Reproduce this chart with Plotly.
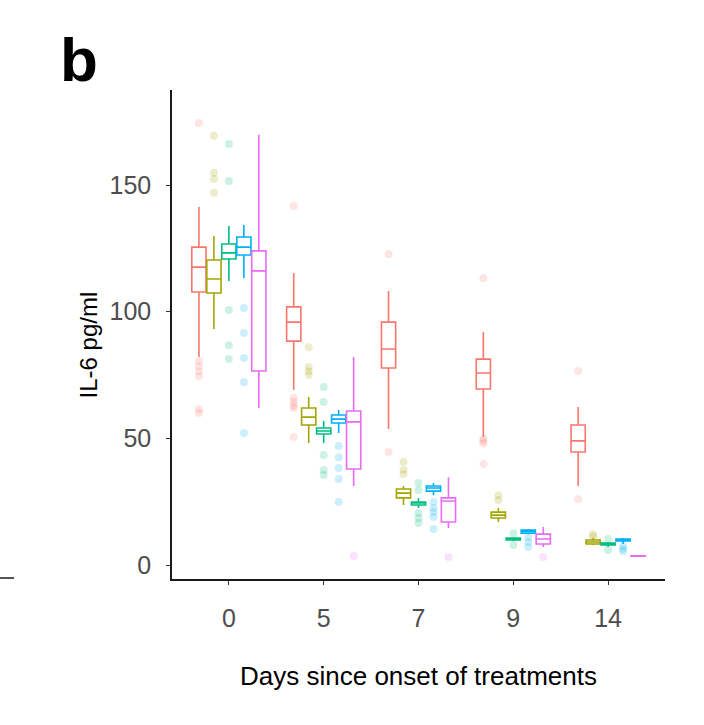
import plotly.graph_objects as go

# ---- data -------------------------------------------------------------
days = ["0", "5", "7", "9", "14"]
colors = ["#F8766D", "#A3A500", "#00BF7D", "#00B0F6", "#E76BF3"]

# series 1 (salmon)
s1_lo  = [82.1, 69.1, 53.7, 50.5, 31.2]
s1_q1  = [107.8, 88.4, 77.8, 69.5, 44.6]
s1_med = [117.6, 95.9, 85.3, 75.8, 49.0]
s1_q3  = [125.5, 101.9, 95.9, 81.3, 55.3]
s1_hi  = [141.3, 115.3, 108.2, 92.0, 62.4]
s1_out = [[174.5, 80.5, 78.5, 76.5, 74.5, 61.5, 60.0],
          [141.7, 66.0, 64.5, 63.0, 62.0, 50.5],
          [122.8, 44.6],
          [113.3, 50.0, 49.0, 48.0, 39.9],
          [76.6, 26.0]]

# series 2 (olive)
s2_lo  = [93.2, 48.2, 23.7, 17.0, 7.9]
s2_q1  = [107.4, 55.3, 26.5, 18.6, 8.3]
s2_med = [112.9, 58.4, 28.4, 19.7, 9.1]
s2_q3  = [120.4, 62.0, 30.0, 20.9, 9.9]
s2_hi  = [129.9, 66.3, 31.2, 22.5, 10.7]
s2_out = [[169.4, 154.8, 152.4, 146.9],
          [86.0, 78.2, 76.5, 75.0],
          [40.7, 37.5, 35.9],
          [27.6, 25.7],
          [11.4, 12.2]]

# series 3 (green)
s3_lo  = [112.1, 48.2, 22.5, 9.5, 7.1]
s3_q1  = [120.8, 51.7, 23.7, 9.9, 7.9]
s3_med = [123.2, 52.9, 24.5, 10.3, 8.3]
s3_q3  = [126.7, 54.1, 24.9, 10.7, 8.7]
s3_hi  = [133.8, 56.9, 26.5, 11.0, 9.1]
s3_out = [[166.2, 151.6, 100.7, 86.8, 81.3],
          [70.3, 64.4, 43.4, 37.5, 35.5],
          [32.4, 29.6, 20.5, 18.6, 16.6],
          [12.6, 7.9],
          [10.3, 5.9]]

# series 4 (blue)
s4_lo  = [113.3, 52.1, 27.6, 12.2, 8.3]
s4_q1  = [122.4, 56.1, 29.2, 12.6, 9.5]
s4_med = [125.5, 57.6, 30.4, 13.4, 9.9]
s4_q3  = [129.5, 59.2, 31.2, 13.8, 10.3]
s4_hi  = [134.2, 61.2, 32.4, 14.2, 10.7]
s4_out = [[101.5, 91.6, 81.7, 72.2, 52.1],
          [47.0, 42.6, 38.3, 34.0, 24.9],
          [24.9, 22.5, 20.9, 19.0, 14.2],
          [11.0, 9.1, 7.1],
          [7.5, 6.3, 5.5]]

# series 5 (magenta)
s5_lo  = [62.0, 31.2, 14.6, 7.1, 3.4]
s5_q1  = [76.6, 37.9, 17.0, 8.3, 3.5]
s5_med = [116.1, 56.5, 25.3, 10.3, 3.6]
s5_q3  = [124.0, 60.8, 26.5, 12.2, 3.7]
s5_hi  = [169.8, 82.1, 34.7, 15.0, 3.8]
s5_out = [[],
          [3.6],
          [3.2],
          [3.2],
          []]

series = [
    (s1_lo, s1_q1, s1_med, s1_q3, s1_hi, s1_out),
    (s2_lo, s2_q1, s2_med, s2_q3, s2_hi, s2_out),
    (s3_lo, s3_q1, s3_med, s3_q3, s3_hi, s3_out),
    (s4_lo, s4_q1, s4_med, s4_q3, s4_hi, s4_out),
    (s5_lo, s5_q1, s5_med, s5_q3, s5_hi, s5_out),
]

# ---- figure -----------------------------------------------------------
dodge = 0.158
box_w = 0.15
fig = go.Figure()

def rgba(hexc, a):
    h = hexc.lstrip("#")
    r, g, b = int(h[0:2], 16), int(h[2:4], 16), int(h[4:6], 16)
    return f"rgba({r},{g},{b},{a})"

for j, (lo, q1, med, q3, hi, out) in enumerate(series):
    off = (j - 2) * dodge
    xs = [i + off for i in range(len(days))]
    ox, oy = [], []
    for i, vals in enumerate(out):
        for v in vals:
            ox.append(i + off)
            oy.append(v)
    fig.add_trace(go.Scatter(
        x=ox, y=oy, mode="markers",
        marker=dict(size=8, color=rgba(colors[j], 0.2), line=dict(width=0)),
        showlegend=False, hoverinfo="y"))
    fig.add_trace(go.Box(
        x=xs, q1=q1, median=med, q3=q3, lowerfence=lo, upperfence=hi,
        width=box_w, whiskerwidth=0, boxpoints=False,
        line=dict(color=colors[j], width=1.6),
        fillcolor="rgba(255,255,255,0)",
        showlegend=False))

FONT = "Liberation Sans, Arial, Helvetica, sans-serif"
fig.update_layout(
    width=704, height=725,
    paper_bgcolor="white", plot_bgcolor="white",
    margin=dict(l=172, r=39, t=90, b=146),
    font=dict(family=FONT, size=25, color="#4D4D4D"),
    xaxis=dict(
        range=[-0.6, 4.6], tickmode="array",
        tickvals=list(range(len(days))), ticktext=days,
        showgrid=False, zeroline=False,
        showline=True, linecolor="#1a1a1a", linewidth=1.5,
        ticks="outside", ticklen=4, tickcolor="#333333", tickwidth=1,
        tickfont=dict(size=25, color="#4D4D4D"),
        ticklabelstandoff=12,
    ),
    yaxis=dict(
        range=[-5.5, 187.5], tickvals=[0, 50, 100, 150],
        showgrid=False, zeroline=False,
        showline=True, linecolor="#1a1a1a", linewidth=1.5,
        ticks="outside", ticklen=4, tickcolor="#333333", tickwidth=1,
        tickfont=dict(size=25, color="#4D4D4D"),
        ticklabelstandoff=10,
    ),
    annotations=[
        dict(text="<b>b</b>", xref="paper", yref="paper", x=-0.189, y=1.063,
             xanchor="center", yanchor="middle", showarrow=False,
             font=dict(size=62, color="black", family=FONT)),
        dict(text="IL-6 pg/ml", xref="paper", yref="paper", x=-0.170, y=0.478,
             xanchor="center", yanchor="middle", textangle=-90, showarrow=False,
             font=dict(size=24, color="black", family=FONT)),
        dict(text="Days since onset of treatments", xref="paper", yref="paper",
             x=0.5, y=-0.198, xanchor="center", yanchor="middle", showarrow=False,
             font=dict(size=26, color="black", family=FONT)),
    ],
    shapes=[
        dict(type="line", xref="paper", yref="paper", x0=-0.349, x1=-0.3205,
             y0=0.002, y1=0.002, line=dict(color="#1a1a1a", width=1.5)),
    ],
)

fig.write_html("out.html", config={"displayModeBar": False},
               post_script="document.body.style.margin='0';")
